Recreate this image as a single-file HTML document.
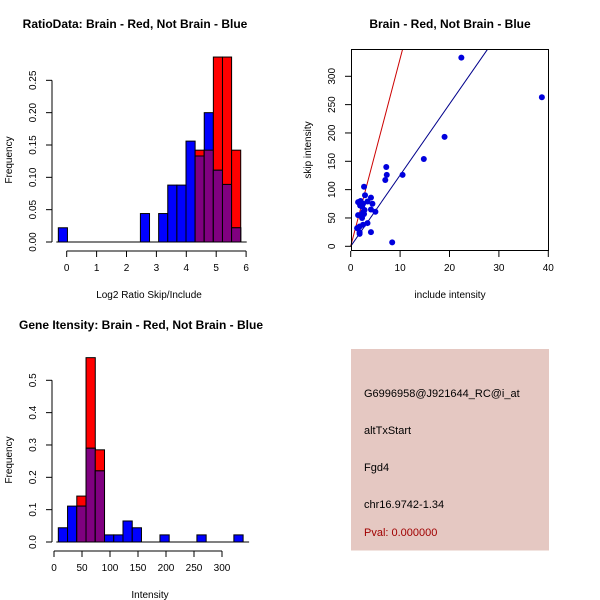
<!DOCTYPE html>
<html><head><meta charset="utf-8"><style>
html,body{margin:0;padding:0;background:#fff}
svg{display:block;font-family:"Liberation Sans",sans-serif}
</style></head><body>
<svg id="c" width="600" height="600" viewBox="0 0 600 600">
<text x="135" y="28" text-anchor="middle" font-weight="bold" font-size="12">RatioData: Brain - Red, Not Brain - Blue</text>
<text x="450" y="28" text-anchor="middle" font-weight="bold" font-size="12">Brain - Red, Not Brain - Blue</text>
<text x="141" y="329" text-anchor="middle" font-weight="bold" font-size="12">Gene Itensity: Brain - Red, Not Brain - Blue</text>
<text x="149" y="298" text-anchor="middle" font-size="10">Log2 Ratio Skip/Include</text>
<text transform="translate(12,160) rotate(-90)" text-anchor="middle" font-size="10">Frequency</text>
<text x="450" y="298" text-anchor="middle" font-size="10">include intensity</text>
<text transform="translate(311,150) rotate(-90)" text-anchor="middle" font-size="10">skip intensity</text>
<text x="150" y="598" text-anchor="middle" font-size="10">Intensity</text>
<text transform="translate(12,460) rotate(-90)" text-anchor="middle" font-size="10">Frequency</text>
<g>
<rect x="351" y="349" width="198" height="201.5" fill="#e5c8c2"/>
<text x="364" y="397" font-size="11">G6996958@J921644_RC@i_at</text>
<text x="364" y="434" font-size="11">altTxStart</text>
<text x="364" y="471" font-size="11">Fgd4</text>
<text x="364" y="508" font-size="11">chr16.9742-1.34</text>
<text x="364" y="536" font-size="11" fill="#a00000">Pval: 0.000000</text>
</g>
<g id="g1"></g><g id="g2"></g><g id="g3"></g>
</svg>
<script>
// Ratio histogram data
const ratioBinStart = -0.28, ratioBinWidth = 0.305;
const ratioBlue = [0.022,0,0,0,0,0,0,0,0,0.044,0,0.044,0.088,0.088,0.156,0.133,0.2,0.111,0.089,0.022];
const ratioRed  = [0,0,0,0,0,0,0,0,0,0,0,0,0,0,0,0.142,0.142,0.286,0.286,0.142];
const ratioXTicks = [0,1,2,3,4,5,6];
const ratioYTicks = ["0.00","0.05","0.10","0.15","0.20","0.25"];
// Scatter data
const includeVals = [22.4,38.7,19,14.8,10.5,7.2,7.3,7,8.4,4.1,4.4,5,4.1,3.4,2.7,2.9,3.4,4.1,1.5,2,2.3,2.5,2.8,2,1.5,2.3,2.5,1.8,1.8,1.8,2.5,1.9,2.7,1.3];
const skipVals    = [333,263,193,154,126,140,126,117,7,86,75,61,65,79,105,90,41,25,78,80,70,75,64,55,55,50,38,35,25,22,60,72,57,32];
const redSlope = 33.1, blueSlope = 12.55;
const scatterXTicks = [0,10,20,30,40];
const scatterYTicks = [0,50,100,150,200,250,300];
// Intensity histogram data
const intBinStart = 7.7, intBinWidth = 16.5;
const intBlue = [0.044,0.111,0.111,0.29,0.22,0.022,0.022,0.065,0.044,0,0,0.022,0,0,0,0.022,0,0,0,0.022];
const intRed  = [0,0,0.142,0.57,0.285,0,0,0,0,0,0,0,0,0,0,0,0,0,0,0];
const intXTicks = [0,50,100,150,200,250,300];
const intYTicks = ["0.0","0.1","0.2","0.3","0.4","0.5"];

const NS="http://www.w3.org/2000/svg";
function mk(p,t,a){const e=document.createElementNS(NS,t);for(const k in a)e.setAttribute(k,a[k]);p.appendChild(e);return e;}

function hist(g,binStart,bw,blue,red,xs,ys,yTicks,xTicks,axisY,yLabX,prefix){
  for(let i=0;i<blue.length;i++){
    const x0=xs(binStart+i*bw),x1=xs(binStart+(i+1)*bw);
    const b=blue[i],r=red[i];
    if(r>0){const e=mk(g,'rect',{x:x0,y:ys(r),width:x1-x0,height:ys(0)-ys(r),fill:'#ff0000',stroke:'#000','stroke-width':1});
      
      }
    if(b>0){const e=mk(g,'rect',{x:x0,y:ys(b),width:x1-x0,height:ys(0)-ys(b),fill:'#0000ff',stroke:'#000','stroke-width':1});
      
      }
    if(b>0&&r>0){const m=Math.min(b,r);const e=mk(g,'rect',{x:x0,y:ys(m),width:x1-x0,height:ys(0)-ys(m),fill:'#800080',stroke:'#000','stroke-width':1});
      
      }
  }
  mk(g,'line',{x1:52,x2:52,y1:ys(0),y2:ys(parseFloat(yTicks[yTicks.length-1])),stroke:'#000'});
  yTicks.forEach(t=>{const y=ys(parseFloat(t));mk(g,'line',{x1:46,x2:52,y1:y,y2:y,stroke:'#000'});
    const e=mk(g,'text',{transform:`translate(${yLabX},${y}) rotate(-90)`,'text-anchor':'middle','font-size':10});e.textContent=t;
    
    });
  mk(g,'line',{x1:xs(xTicks[0]),x2:xs(xTicks[xTicks.length-1]),y1:axisY,y2:axisY,stroke:'#000'});
  xTicks.forEach(t=>{const x=xs(t);mk(g,'line',{x1:x,x2:x,y1:axisY,y2:axisY+6,stroke:'#000'});
    const e=mk(g,'text',{x:x,y:axisY+20,'text-anchor':'middle','font-size':10});e.textContent=t;
    
    });
  mk(g,'line',{x1:xs(binStart)-2,x2:xs(binStart+blue.length*bw)+6,y1:ys(0),y2:ys(0),stroke:'#000'});
}
const g1=document.getElementById('g1');


hist(g1,ratioBinStart,ratioBinWidth,ratioBlue,ratioRed,v=>66.7+v*29.9,v=>242-v*646.7,ratioYTicks,ratioXTicks,251,36,'ratio');

const g3=document.getElementById('g3');


hist(g3,intBinStart,intBinWidth,intBlue,intRed,v=>54+v*0.56,v=>542-v*323.4,intYTicks,intXTicks,551,36,'intensity');

const g2=document.getElementById('g2');


const sx=v=>350.7+v*4.94, sy=v=>246.3-v*0.5667;
const plotTop=49.3, ymaxV=(246.3-plotTop)/0.5667;
const rl=mk(g2,'line',{x1:sx(0),y1:sy(0),x2:sx(ymaxV/redSlope),y2:plotTop,stroke:'#cc0000','stroke-width':1});


const bl=mk(g2,'line',{x1:sx(0),y1:sy(0),x2:sx(ymaxV/blueSlope),y2:plotTop,stroke:'#00008b','stroke-width':1});


includeVals.forEach((v,i)=>{const c=mk(g2,'circle',{cx:sx(v),cy:sy(skipVals[i]),r:3,fill:'#0000dd'});
  
  });
mk(g2,'rect',{x:351.5,y:49.5,width:197,height:201,fill:'none',stroke:'#000'});
scatterXTicks.forEach(t=>{const x=sx(t);mk(g2,'line',{x1:x,x2:x,y1:251,y2:257,stroke:'#000'});
  const e=mk(g2,'text',{x:x,y:271,'text-anchor':'middle','font-size':10});e.textContent=t;
  
  });
scatterYTicks.forEach(t=>{const y=sy(t);mk(g2,'line',{x1:345,x2:351,y1:y,y2:y,stroke:'#000'});
  const e=mk(g2,'text',{transform:`translate(335,${y}) rotate(-90)`,'text-anchor':'middle','font-size':10});e.textContent=t;
  
  });
</script>
</body></html>
